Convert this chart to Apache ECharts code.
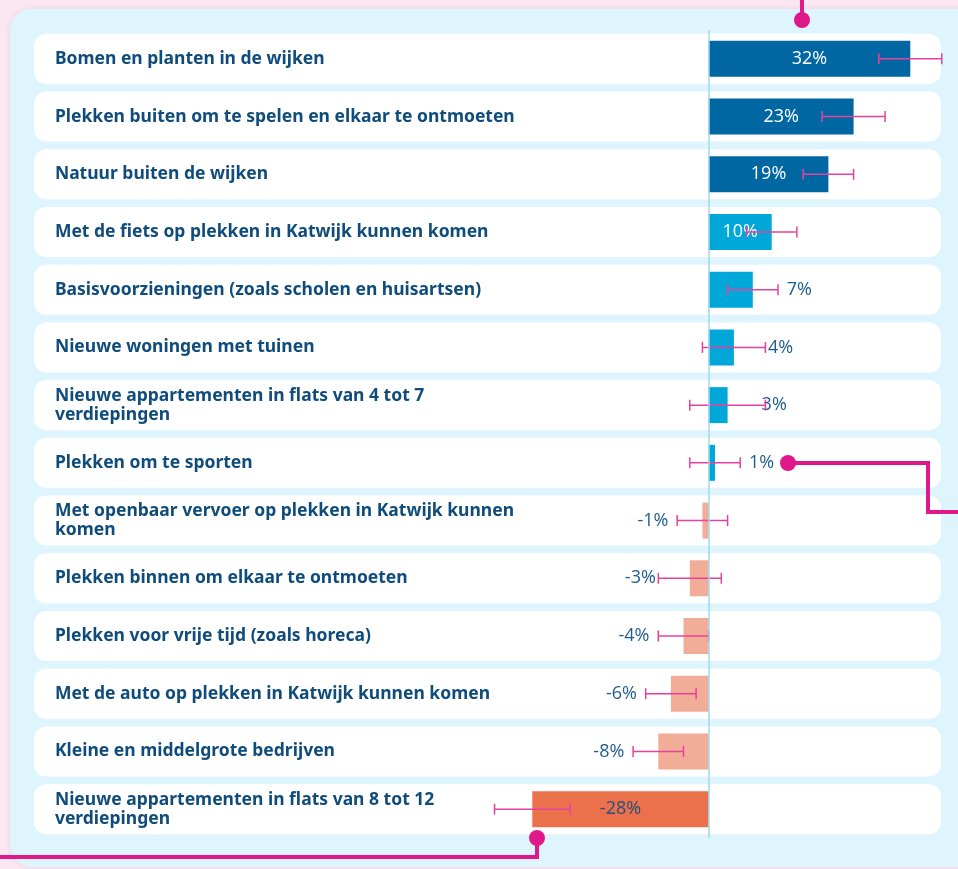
<!DOCTYPE html>
<html>
<head>
<meta charset="utf-8">
<script src="https://cdn.jsdelivr.net/npm/echarts@6/dist/echarts.min.js"></script>
<style>
  html, body { margin: 0; padding: 0; background: #fbe7f1; }
  #chart { width: 958px; height: 869px; }
</style>
</head>
<body>
<div id="chart"></div>
<script>
// data
const categories = [
  'Bomen en planten in de wijken',
  'Plekken buiten om te spelen en elkaar te ontmoeten',
  'Natuur buiten de wijken',
  'Met de fiets op plekken in Katwijk kunnen komen',
  'Basisvoorzieningen (zoals scholen en huisartsen)',
  'Nieuwe woningen met tuinen',
  'Nieuwe appartementen in flats van 4 tot 7\nverdiepingen',
  'Plekken om te sporten',
  'Met openbaar vervoer op plekken in Katwijk kunnen\nkomen',
  'Plekken binnen om elkaar te ontmoeten',
  'Plekken voor vrije tijd (zoals horeca)',
  'Met de auto op plekken in Katwijk kunnen komen',
  'Kleine en middelgrote bedrijven',
  'Nieuwe appartementen in flats van 8 tot 12\nverdiepingen'
]
const values  = [32, 23, 19, 10, 7, 4, 3, 1, -1, -3, -4, -6, -8, -28]
const errLow  = [27, 18, 15, 6, 3, -1, -3, -3, -5, -8, -8, -10, -12, -34]
const errHigh = [37, 28, 23, 14, 11, 9, 9, 5, 3, 2, 0, -2, -4, -22]

const navy = '#0f4c7b'
const pink = '#e0198a'

const barColor = v => v >= 15 ? '#0067a3' : v > 0 ? '#00a7d9' : v > -20 ? '#f2ad98' : '#ea714b'

const barData = values.map(v => {
  const inside = Math.abs(v) >= 10
  return {
    value: v,
    itemStyle: { color: barColor(v) },
    label: inside
      ? { position: 'inside', color: v > 0 ? '#fff' : '#24507a' }
      : { position: v > 0 ? 'right' : 'left', distance: 34, color: '#1f5c8e' }
  }
})

const errData = values.map((v, i) => [errLow[i], errHigh[i], i])

const chart = echarts.init(document.getElementById('chart'))

chart.setOption({
  animation: false,
  graphic: [
    { type: 'rect', z: -10, shape: { x: 10, y: 9, width: 970, height: 858, r: 22 },
      style: { fill: '#dff5fd', shadowColor: 'rgba(0,0,0,0.08)', shadowBlur: 6 } },
    // annotation lines
    { type: 'line', z: 100, shape: { x1: 802, y1: 0, x2: 802, y2: 20 }, style: { stroke: pink, lineWidth: 4 } },
    { type: 'circle', z: 100, shape: { cx: 802, cy: 20, r: 8 }, style: { fill: pink } },
    { type: 'polyline', z: 100, shape: { points: [[788, 463], [928, 463], [928, 512], [960, 512]] },
      style: { stroke: pink, lineWidth: 4, fill: null } },
    { type: 'circle', z: 100, shape: { cx: 788, cy: 463, r: 8 }, style: { fill: pink } },
    { type: 'polyline', z: 100, shape: { points: [[537, 838], [537, 857], [-2, 857]] },
      style: { stroke: pink, lineWidth: 4, fill: null } },
    { type: 'circle', z: 100, shape: { cx: 537, cy: 838, r: 8 }, style: { fill: pink } }
  ],
  grid: { left: 481.9, width: 472.5, top: 30, height: 808 },
  xAxis: {
    type: 'value', min: -36, max: 39, show: false
  },
  yAxis: {
    type: 'category',
    inverse: true,
    data: categories,
    z: 5,
    axisLine: { show: false },
    axisTick: { show: false },
    axisLabel: {
      align: 'left',
      margin: 427,
      color: navy,
      fontFamily: 'Noto Sans',
      fontWeight: 'bold',
      fontSize: 17.5,
      lineHeight: 19
    }
  },
  series: [
    {
      // white row boxes
      type: 'custom',
      z: 1,
      silent: true,
      data: categories.map((c, i) => [0, i]),
      encode: { x: 0, y: 1 },
      renderItem: (params, api) => {
        const y = api.coord([0, api.value(1)])[1]
        const h = api.size([0, 1])[1] * 0.866
        return {
          type: 'rect',
          shape: { x: 34, y: y - h / 2, width: 907, height: h, r: 12 },
          style: { fill: '#fff' }
        }
      }
    },
    {
      type: 'bar',
      z: 2,
      barWidth: 36,
      data: barData,
      label: {
        show: true,
        fontFamily: 'Open Sans',
        fontSize: 18,
        formatter: p => p.value + '%'
      },
      markLine: {
        silent: true,
        symbol: 'none',
        label: { show: false },
        lineStyle: { color: '#9fd9ee', width: 1.5, type: 'solid' },
        data: [{ xAxis: 0 }]
      }
    },
    {
      // error bars
      type: 'custom',
      z: 3,
      silent: true,
      data: errData,
      encode: { x: [0, 1], y: 2 },
      renderItem: (params, api) => {
        const a = api.coord([api.value(0), api.value(2)])
        const b = api.coord([api.value(1), api.value(2)])
        const style = { stroke: '#e8409f', lineWidth: 1.5 }
        const c = 5.5
        return {
          type: 'group',
          children: [
            { type: 'line', shape: { x1: a[0], y1: a[1], x2: b[0], y2: b[1] }, style },
            { type: 'line', shape: { x1: a[0], y1: a[1] - c, x2: a[0], y2: a[1] + c }, style },
            { type: 'line', shape: { x1: b[0], y1: b[1] - c, x2: b[0], y2: b[1] + c }, style }
          ]
        }
      }
    }
  ]
})
</script>
</body>
</html>
